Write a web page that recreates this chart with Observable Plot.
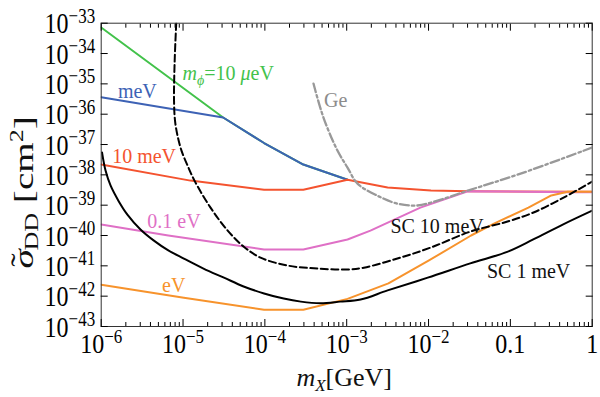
<!DOCTYPE html>
<html><head><meta charset="utf-8">
<script src="https://cdn.jsdelivr.net/npm/d3@7"></script>
<script src="https://cdn.jsdelivr.net/npm/@observablehq/plot@0.6"></script>
<style>body{margin:0;background:#fff}</style>
</head><body><div id="chart"></div>
<script>
// ---- data (log10 of m_X [GeV] and log10 of sigma [cm^2]) ----
const greenX = [-6, -4.51, -4.01, -3.53, -2.99];
const greenY = [-33.14, -36.11, -36.95, -37.66, -38.16];
const blueX = [-6, -4.51, -4.01, -3.53, -2.99];
const blueY = [-35.44, -36.11, -36.95, -37.66, -38.16];
const redX = [-6, -4.91, -4.01, -3.53, -2.99, -2.50, -1.97, -1.52, 0];
const redY = [-37.66, -38.19, -38.49, -38.49, -38.16, -38.42, -38.52, -38.54, -38.56];
const pinkX = [-6, -5.18, -4.01, -3.53, -2.99, -2.71, -2.10, -1.52, -0.30, 0];
const pinkY = [-39.64, -40.0, -40.46, -40.46, -40.13, -39.84, -39.08, -38.54, -38.57, -38.57];
const orangeX = [-6, -4.99, -4.01, -3.53, -2.99, -2.49, -2.0, -1.48, -1.20, -0.78, -0.50, -0.30, 0];
const orangeY = [-41.62, -42.05, -42.45, -42.45, -42.09, -41.58, -40.83, -40.0, -39.61, -39.08, -38.68, -38.56, -38.56];
const geX = [-3.406, -3.284, -3.113, -2.99, -2.868, -2.623, -2.379, -2.135, -1.89, -1.52, -0.875, 0];
const geY = [-34.99, -36.11, -37.20, -37.76, -38.29, -38.69, -38.95, -39.01, -38.85, -38.52, -37.96, -37.10];
const sc10X = [-5.083, -5.102, -5.110, -5.098, -5.068, -5.019, -4.945, -4.86, -4.664, -4.457, -4.261, -4.053, -3.723, -3.356, -2.99, -2.79, -2.38, -1.976, -1.487, -1.035, -0.717, -0.35, 0];
const sc10Y = [-33.0, -34.23, -35.55, -36.21, -36.70, -37.20, -37.69, -38.19, -39.08, -39.83, -40.36, -40.73, -40.99, -41.09, -41.12, -41.06, -40.76, -40.40, -39.87, -39.54, -39.24, -38.75, -38.22];
const sc1X = [-5.99, -5.947, -5.886, -5.79, -5.68, -5.52, -5.36, -5.18, -4.99, -4.75, -4.50, -4.26, -4.01, -3.77, -3.56, -3.32, -3.08, -2.83, -2.50, -2.01, -1.49, -1.03, -0.72, -0.36, 0];
const sc1Y = [-37.26, -37.86, -38.35, -38.85, -39.31, -39.80, -40.16, -40.49, -40.76, -41.09, -41.39, -41.68, -41.91, -42.08, -42.18, -42.23, -42.18, -42.11, -41.81, -41.39, -40.92, -40.53, -40.13, -39.64, -39.18];

const xTicks = [1e-6, 1e-5, 1e-4, 1e-3, 1e-2, 0.1, 1];
const xTickLabels = ["10^-6", "10^-5", "10^-4", "10^-3", "10^-2", "0.1", "1"];
const yTicks = [1e-43, 1e-42, 1e-41, 1e-40, 1e-39, 1e-38, 1e-37, 1e-36, 1e-35, 1e-34, 1e-33];
const yTickLabels = ["10^-43", "10^-42", "10^-41", "10^-40", "10^-39", "10^-38", "10^-37", "10^-36", "10^-35", "10^-34", "10^-33"];

// label anchors (log10 coords, left/baseline)
const labelNames = ["mphi", "meV", "10meV", "Ge", "0.1eV", "eV", "SC10", "SC1"];
const labelX = [-5.0, -5.79, -5.86, -3.27, -5.43, -5.25, -2.46, -1.28];
const labelY = [-34.89, -35.48, -37.63, -35.78, -39.78, -41.89, -39.94, -41.42];

// ---- build ----
const pts = (xs, ys) => xs.map((x, i) => ({x: 10 ** x, y: 10 ** ys[i]}));
const C = {green: "#43c24b", blue: "#3d62b5", red: "#f4532f", pink: "#df70c6", orange: "#f7932c", gray: "#999999", black: "#000000"};
const minorX = d3.scaleLog().domain([1e-6, 1]).ticks().filter(v => !xTicks.some(t => Math.abs(t / v - 1) < 1e-6));
const minorY = d3.scaleLog().domain([1e-43, 1e-33]).ticks().filter(v => !yTicks.some(t => Math.abs(t / v - 1) < 1e-6));

const lineOpts = (stroke, extra = {}) => ({x: "x", y: "y", stroke, strokeWidth: 2, clip: true, ...extra});
const tickAxes = [];
for (const [vals, len] of [[xTicks, 7], [minorX, 4]]) {
  tickAxes.push(Plot.axisX(vals, {anchor: "bottom", tickSize: len, insetBottom: len, fill: "none", label: null}));
  tickAxes.push(Plot.axisX(vals, {anchor: "top", tickSize: len, insetTop: len, fill: "none", label: null}));
}
for (const [vals, len] of [[yTicks, 7], [minorY, 4]]) {
  tickAxes.push(Plot.axisY(vals, {anchor: "left", tickSize: len, insetLeft: len, fill: "none", label: null}));
  tickAxes.push(Plot.axisY(vals, {anchor: "right", tickSize: len, insetRight: len, fill: "none", label: null}));
}

const FONT = "'Liberation Serif', 'Times New Roman', serif";
const plot = Plot.plot({
  width: 600, height: 397,
  marginLeft: 100.7, marginRight: 8.3, marginTop: 22.7, marginBottom: 71,
  x: {type: "log", domain: [1e-6, 1]},
  y: {type: "log", domain: [1e-43, 1e-33]},
  style: {fontFamily: FONT, background: "white", color: "black"},
  marks: [
    Plot.line(pts(greenX, greenY), lineOpts(C.green)),
    Plot.line(pts(blueX, blueY), lineOpts(C.blue)),
    Plot.line(pts(redX, redY), lineOpts(C.red)),
    Plot.line(pts(pinkX, pinkY), lineOpts(C.pink)),
    Plot.line(pts(orangeX, orangeY), lineOpts(C.orange)),
    Plot.line(pts(geX, geY), lineOpts(C.gray, {strokeWidth: 2.3, strokeDasharray: "9,3,2.5,3", curve: "catmull-rom"})),
    Plot.line(pts(sc10X, sc10Y), lineOpts(C.black, {strokeDasharray: "7,3.5", curve: "catmull-rom"})),
    Plot.line(pts(sc1X, sc1Y), lineOpts(C.black, {curve: "catmull-rom"})),
    Plot.frame({stroke: "#333", strokeWidth: 1}),
    ...tickAxes,
    Plot.axisX(xTicks, {anchor: "bottom", tickSize: 0, tickPadding: 8, fontSize: 24, label: null,
      tickFormat: d => xTickLabels[xTicks.indexOf(d)]}),
    Plot.axisY(yTicks, {anchor: "left", tickSize: 0, tickPadding: 6, fontSize: 24, label: null,
      tickFormat: d => yTickLabels[yTicks.indexOf(d)]})
  ]
});
document.getElementById("chart").appendChild(plot);

// superscript exponents in tick labels, slightly taller glyphs as in the reference
const NS = "http://www.w3.org/2000/svg";
function fixTicks(selector, stretch) {
  plot.querySelectorAll(selector).forEach(t => {
    const s = t.textContent;
    if (s.startsWith("10^")) {
      t.textContent = "10";
      const ts = document.createElementNS(NS, "tspan");
      ts.setAttribute("dy", "-0.5em");
      ts.setAttribute("font-size", "17px");
      ts.textContent = s.slice(3).replace("-", "\u2212");
      t.appendChild(ts);
    }
    const b = t.getBBox();
    const yc = b.y + b.height / 2;
    const prev = t.getAttribute("transform") || "";
    t.setAttribute("transform", `${prev} translate(0,${yc}) scale(1,${stretch}) translate(0,${-yc})`);
  });
}
fixTicks('g[aria-label="x-axis tick label"] text', 1.15);
fixTicks('g[aria-label="y-axis tick label"] text', 1.25);

// rich text labels
const sx = plot.scale("x"), sy = plot.scale("y");
const svg = d3.select(plot);
const g = svg.append("g").attr("font-family", FONT);
function rich(x, y, parts, color, size, anchor = "start", transform = null) {
  const t = g.append("text").attr("fill", color).attr("font-size", size).attr("text-anchor", anchor);
  if (transform) t.attr("transform", transform); else t.attr("x", x).attr("y", y);
  for (const p of parts) {
    const ts = t.append("tspan").text(p.t);
    if (p.i) ts.attr("font-style", "italic");
    if (p.s) ts.attr("font-size", p.s);
    if (p.dy) ts.attr("dy", p.dy);
    if (p.dx) ts.attr("dx", p.dx);
  }
  return t;
}
const labelParts = {
  mphi: [[{t: "m", i: 1}, {t: "\u03d5", i: 1, s: 14, dy: 5}, {t: "=10 ", dy: -5}, {t: "\u03bc", i: 1}, {t: "eV"}], C.green],
  meV: [[{t: "meV"}], C.blue],
  "10meV": [[{t: "10 meV"}], C.red],
  Ge: [[{t: "Ge"}], "#8c8c8c"],
  "0.1eV": [[{t: "0.1 eV"}], C.pink],
  eV: [[{t: "eV"}], C.orange],
  SC10: [[{t: "SC 10 meV"}], "#111"],
  SC1: [[{t: "SC 1 meV"}], "#111"]
};
labelNames.forEach((n, i) => {
  const [parts, color] = labelParts[n];
  rich(sx.apply(10 ** labelX[i]), sy.apply(10 ** labelY[i]), parts, color, 20);
});
// axis titles
const [x0, x1] = sx.range;
rich((x0 + x1) / 2 - 2, 386, [{t: "m", i: 1}, {t: "X", i: 1, s: 17, dy: 5}, {t: "[GeV]", dy: -5}], "#111", 26, "middle");
const [y0, y1] = sy.range;
rich(0, 0, [{t: "\u03c3", i: 1}, {t: "\u02dc", dx: -12, dy: -3}, {t: "DD", s: 18, dx: 2, dy: 8}, {t: " [cm", dy: -5}, {t: "2", s: 18, dy: -10}, {t: "]", dy: 10}],
  "#111", 27, "middle", `translate(33,${(y0 + y1) / 2 + 18}) rotate(-90) scale(1.45,1)`);
</script>
</body></html>
